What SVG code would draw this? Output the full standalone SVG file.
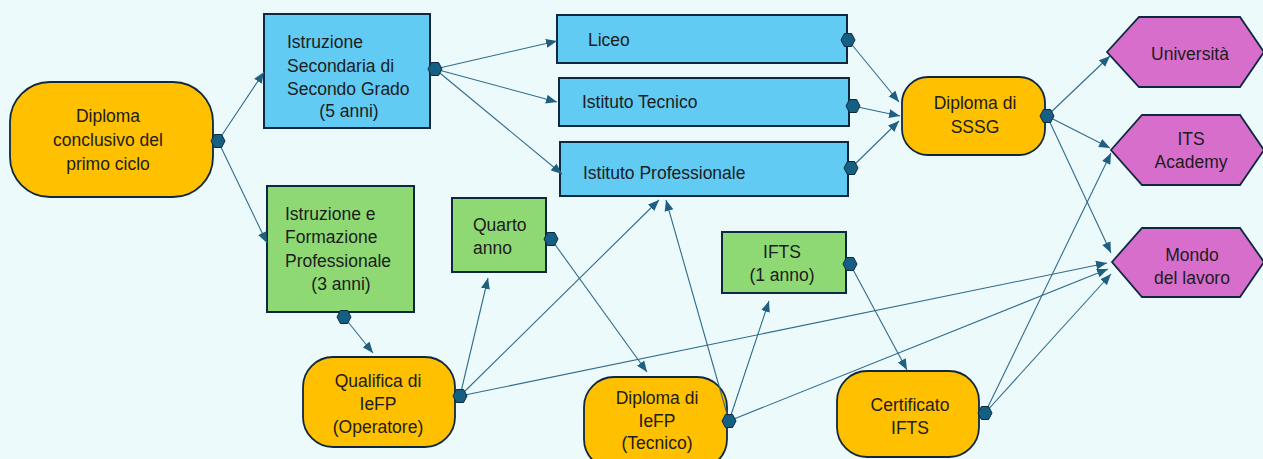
<svg xmlns="http://www.w3.org/2000/svg" width="1263" height="459" viewBox="0 0 1263 459">
<style>
text{font-family:"Liberation Sans","Open Sans",sans-serif;font-size:17.5px;fill:#1c1c1c}
.c{text-anchor:middle}
.o{fill:#FFC000;stroke:#0E2841;stroke-width:1.8}
.b{fill:#61CBF3;stroke:#0E2841;stroke-width:2}
.g{fill:#8ED973;stroke:#0E2841;stroke-width:2}
.m{fill:#D86ECC;stroke:#0E2841;stroke-width:1.8}
.ln{stroke:#2F6B8C;stroke-width:1.1;fill:none;marker-end:url(#ah)}
.hx{fill:#156082;stroke:#0E2841;stroke-width:1}
</style>
<defs>
<marker id="ah" markerUnits="userSpaceOnUse" markerWidth="12" markerHeight="10" refX="11" refY="5" orient="auto">
<path d="M0,0.5 L11,5 L0,9.5 z" fill="#1F5F82"/>
</marker>
<polygon id="hex" points="-7,0 -3.6,-6.5 3.6,-6.5 7,0 3.6,6.5 -3.6,6.5"/>
</defs>
<rect width="1263" height="459" fill="#EDFAFC"/>

<g id="n-primo">
<rect class="o" x="10" y="82" width="203" height="115" rx="40" ry="40"/>
<text class="c" x="108" y="122">Diploma</text>
<text class="c" x="108" y="146">conclusivo del</text>
<text class="c" x="108" y="170">primo ciclo</text>
</g>
<g id="n-sssg">
<rect class="b" x="264" y="14" width="166" height="114"/>
<text x="287" y="48">Istruzione</text>
<text x="287" y="72">Secondaria di</text>
<text x="287" y="95">Secondo Grado</text>
<text class="c" x="349" y="117">(5 anni)</text>
</g>
<g id="n-liceo">
<rect class="b" x="557" y="15" width="290" height="48"/>
<text x="588" y="46">Liceo</text>
</g>
<g id="n-tecnico">
<rect class="b" x="559" y="78" width="290" height="48"/>
<text x="582" y="108">Istituto Tecnico</text>
</g>
<g id="n-prof">
<rect class="b" x="560" y="142" width="288" height="54"/>
<text x="583" y="179">Istituto Professionale</text>
</g>
<g id="n-dipsssg">
<rect class="o" x="902" y="77" width="143" height="78" rx="26" ry="26"/>
<text class="c" x="975" y="109">Diploma di</text>
<text class="c" x="975" y="133">SSSG</text>
</g>
<g id="n-univ">
<polygon class="m" points="1107,52 1139,17 1240,17 1264,52 1240,87 1139,87"/>
<text class="c" x="1190" y="60">Università</text>
</g>
<g id="n-its">
<polygon class="m" points="1111,150 1142,115 1240,115 1264,150 1240,185 1142,185"/>
<text class="c" x="1191" y="145">ITS</text>
<text class="c" x="1191" y="168">Academy</text>
</g>
<g id="n-lavoro">
<polygon class="m" points="1112,262 1142,228 1240,228 1264,262 1240,297 1142,297"/>
<text class="c" x="1192" y="261">Mondo</text>
<text class="c" x="1192" y="284">del lavoro</text>
</g>
<g id="n-iefp">
<rect class="g" x="267" y="186" width="147" height="126"/>
<text x="285" y="220">Istruzione e</text>
<text x="285" y="243">Formazione</text>
<text x="285" y="267">Professionale</text>
<text class="c" x="341" y="290">(3 anni)</text>
</g>
<g id="n-quarto">
<rect class="g" x="452" y="198" width="94" height="74"/>
<text x="473" y="231">Quarto</text>
<text x="473" y="254">anno</text>
</g>
<g id="n-qualifica">
<rect class="o" x="303" y="357" width="152" height="90" rx="30" ry="30"/>
<text class="c" x="378" y="387">Qualifica di</text>
<text class="c" x="378" y="410">IeFP</text>
<text class="c" x="378" y="433">(Operatore)</text>
</g>
<g id="n-ifts">
<rect class="g" x="722" y="232" width="124" height="61"/>
<text class="c" x="782" y="258">IFTS</text>
<text class="c" x="782" y="281">(1 anno)</text>
</g>
<g id="n-dipiefp">
<rect class="o" x="584" y="377" width="143" height="92" rx="30" ry="30"/>
<text class="c" x="657" y="404">Diploma di</text>
<text class="c" x="657" y="427">IeFP</text>
<text class="c" x="657" y="449">(Tecnico)</text>
</g>
<g id="n-cert">
<rect class="o" x="837" y="371" width="142" height="86" rx="30" ry="30"/>
<text class="c" x="910" y="411">Certificato</text>
<text class="c" x="910" y="434">IFTS</text>
</g>

<g id="connectors">
<line class="ln" x1="218" y1="141" x2="264" y2="72"/>
<line class="ln" x1="218" y1="141" x2="267" y2="243"/>
<line class="ln" x1="435" y1="69" x2="557" y2="41"/>
<line class="ln" x1="435" y1="69" x2="557" y2="102"/>
<line class="ln" x1="435" y1="69" x2="562" y2="174"/>
<line class="ln" x1="848" y1="40" x2="899" y2="102"/>
<line class="ln" x1="853" y1="106" x2="900" y2="116"/>
<line class="ln" x1="851" y1="168" x2="899" y2="121"/>
<line class="ln" x1="1047" y1="116" x2="1110" y2="56"/>
<line class="ln" x1="1047" y1="116" x2="1110" y2="148"/>
<line class="ln" x1="1047" y1="116" x2="1111" y2="253"/>
<line class="ln" x1="344" y1="317" x2="373" y2="353"/>
<line class="ln" x1="460" y1="396" x2="488" y2="278"/>
<line class="ln" x1="460" y1="396" x2="659" y2="200"/>
<line class="ln" x1="460" y1="396" x2="1107" y2="263"/>
<line class="ln" x1="551" y1="239" x2="647" y2="372"/>
<line class="ln" x1="729" y1="421" x2="666" y2="200"/>
<line class="ln" x1="729" y1="421" x2="769" y2="301"/>
<line class="ln" x1="729" y1="421" x2="1108" y2="269"/>
<line class="ln" x1="850" y1="264" x2="907" y2="370"/>
<line class="ln" x1="985" y1="413" x2="1111" y2="153"/>
<line class="ln" x1="985" y1="413" x2="1111" y2="274"/>
</g>

<g id="ports">
<use href="#hex" class="hx" x="218" y="141"/>
<use href="#hex" class="hx" x="435" y="69"/>
<use href="#hex" class="hx" x="848" y="40"/>
<use href="#hex" class="hx" x="853" y="106"/>
<use href="#hex" class="hx" x="851" y="168"/>
<use href="#hex" class="hx" x="1047" y="116"/>
<use href="#hex" class="hx" x="344" y="317"/>
<use href="#hex" class="hx" x="551" y="239"/>
<use href="#hex" class="hx" x="460" y="396"/>
<use href="#hex" class="hx" x="850" y="264"/>
<use href="#hex" class="hx" x="729" y="421"/>
<use href="#hex" class="hx" x="985" y="413"/>
</g>
</svg>
